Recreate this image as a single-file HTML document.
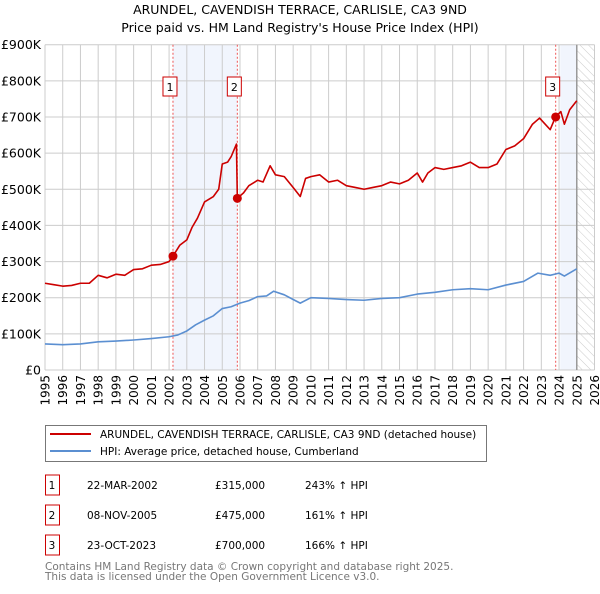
<!DOCTYPE html>
<html><head><meta charset="utf-8"><style>
body{margin:0;background:#fff;font-family:"DejaVu Sans","Liberation Sans",sans-serif;}
svg text{font-family:"DejaVu Sans","Liberation Sans",sans-serif;}
</style></head><body>
<svg id="c" width="600" height="590" xmlns="http://www.w3.org/2000/svg">
<defs><pattern id="hatch" width="6" height="6" patternUnits="userSpaceOnUse" patternTransform="rotate(-45)"><line x1="0" y1="0" x2="0" y2="6" stroke="#ccc" stroke-width="1"/></pattern></defs>
<text x="300" y="14" text-anchor="middle" font-size="12.5">ARUNDEL, CAVENDISH TERRACE, CARLISLE, CA3 9ND</text>
<text x="300" y="32" text-anchor="middle" font-size="12.5">Price paid vs. HM Land Registry's House Price Index (HPI)</text>
<g id="plot"></g>
<g>
<rect x="45.5" y="425.5" width="441" height="36" fill="#fff" stroke="#777"/>
<line x1="50" y1="434" x2="91" y2="434" stroke="#cc0000" stroke-width="2"/>
<text x="100" y="438" font-size="10.5">ARUNDEL, CAVENDISH TERRACE, CARLISLE, CA3 9ND (detached house)</text>
<line x1="50" y1="451" x2="91" y2="451" stroke="#5b8fd1" stroke-width="2"/>
<text x="100" y="455" font-size="10.5">HPI: Average price, detached house, Cumberland</text>
</g>
<g id="table" font-size="10.5"></g>
<text x="45" y="570" font-size="10.5" fill="#777">Contains HM Land Registry data © Crown copyright and database right 2025.</text>
<text x="45" y="580" font-size="10.5" fill="#777">This data is licensed under the Open Government Licence v3.0.</text>
</svg>
<script>
const yTicks=[0,100,200,300,400,500,600,700,800,900];
const yTickLabels=["£0","£100K","£200K","£300K","£400K","£500K","£600K","£700K","£800K","£900K"];
const xYears=[1995,1996,1997,1998,1999,2000,2001,2002,2003,2004,2005,2006,2007,2008,2009,2010,2011,2012,2013,2014,2015,2016,2017,2018,2019,2020,2021,2022,2023,2024,2025,2026];
const redT=[1995,1995.5,1996,1996.5,1997,1997.5,1998,1998.5,1999,1999.5,2000,2000.5,2001,2001.5,2002,2002.22,2002.6,2003,2003.3,2003.6,2004,2004.5,2004.8,2005,2005.3,2005.5,2005.8,2005.85,2006.2,2006.5,2007,2007.3,2007.7,2008,2008.5,2009,2009.4,2009.7,2010,2010.5,2011,2011.5,2012,2012.5,2013,2013.5,2014,2014.5,2015,2015.5,2016,2016.3,2016.6,2017,2017.5,2018,2018.5,2019,2019.5,2020,2020.5,2021,2021.5,2022,2022.5,2022.9,2023.5,2023.8,2024.1,2024.3,2024.6,2025];
const redV=[240,236,232,234,240,240,262,255,265,262,278,280,290,292,300,315,345,360,395,420,465,480,500,570,575,590,625,475,490,510,525,520,565,540,535,505,480,530,535,540,520,525,510,505,500,505,510,520,515,525,545,520,545,560,555,560,565,575,560,560,570,610,620,640,680,697,665,700,715,680,720,745];
const blueT=[1995,1996,1997,1998,1999,2000,2001,2002,2002.5,2003,2003.5,2004,2004.5,2005,2005.5,2006,2006.5,2007,2007.5,2007.9,2008.5,2009,2009.4,2010,2011,2012,2013,2014,2015,2016,2017,2018,2019,2020,2021,2022,2022.8,2023.5,2024,2024.3,2025];
const blueV=[72,70,72,78,80,83,87,92,97,108,125,138,150,170,175,185,192,203,205,218,208,195,185,200,198,195,193,198,200,210,215,222,225,222,235,245,268,262,268,260,280];
const saleT=[2002.22,2005.85,2023.81];
const saleV=[315,475,700];
const saleLabels=["1","2","3"];
const saleDates=["22-MAR-2002","08-NOV-2005","23-OCT-2023"];
const salePrices=["£315,000","£475,000","£700,000"];
const saleHpi=["243% ↑ HPI","161% ↑ HPI","166% ↑ HPI"];

const L=45,R=594.5,T=44.7,B=370,NS="http://www.w3.org/2000/svg";
const X=t=>L+(t-1995)/(2026-1995)*(R-L);
const Y=v=>B-v/900*(B-T);
const g=document.getElementById('plot');
function mk(tag,a,p){const e=document.createElementNS(NS,tag);for(const k in a)e.setAttribute(k,a[k]);(p||g).appendChild(e);return e;}
let s=mk('rect',{x:X(saleT[0]),y:T,width:X(saleT[1])-X(saleT[0]),height:B-T,fill:'#eef3fc',opacity:0.8});


s=mk('rect',{x:X(2024.07),y:T,width:X(2025)-X(2024.07),height:B-T,fill:'#eef3fc',opacity:0.8});


s=mk('rect',{x:X(2025),y:T,width:R-X(2025),height:B-T,fill:'url(#hatch)'});


yTicks.forEach((v,i)=>{
 let l=mk('line',{x1:L,x2:R,y1:Y(v),y2:Y(v),stroke:'#ccc','stroke-width':1});
 
 
 let t=mk('text',{x:L-4,y:Y(v)+4.5,'text-anchor':'end','font-size':12.5});t.textContent=yTickLabels[i];
 
 
});
xYears.forEach(yr=>{
 let l=mk('line',{x1:X(yr),x2:X(yr),y1:T,y2:B,stroke:'#ccc','stroke-width':1});
 
 
 let t=mk('text',{x:0,y:0,'text-anchor':'end','font-size':12,transform:`translate(${X(yr)+4.5},${B+5}) rotate(-90)`});t.textContent=yr;
 
 
});
let ax=mk('line',{x1:X(2025),x2:X(2025),y1:T,y2:B,stroke:'#999','stroke-width':1.5});


saleT.forEach((t,i)=>{
 let l=mk('line',{x1:X(t),x2:X(t),y1:T,y2:B,stroke:'#e55','stroke-width':1,'stroke-dasharray':'2,2'});
 
 
 let bx=mk('rect',{x:X(t)-10,y:77,width:14,height:19,fill:'#fff',stroke:'#c00'});
 
 
 let tx=mk('text',{x:X(t)-3,y:91,'text-anchor':'middle','font-size':11});tx.textContent=saleLabels[i];
 
 
});
function line(ts,vs,c,n){let p=mk('polyline',{points:ts.map((t,i)=>X(t)+','+Y(vs[i])).join(' '),fill:'none',stroke:c,'stroke-width':1.6,'stroke-linejoin':'round'});
 
 }
line(blueT,blueV,'#5b8fd1','hpi-line');
line(redT,redV,'#cc0000','property-price-line');
saleT.forEach((t,i)=>{let c=mk('circle',{cx:X(t),cy:Y(saleV[i]),r:4.5,fill:'#cc0000'});
 
 });
const tb=document.getElementById('table');
saleLabels.forEach((lb,i)=>{
 const y=485+i*30;
 let r=mk('rect',{x:45.5,y:y-10,width:14,height:20,fill:'#fff',stroke:'#c00'},tb);
 
 
 const cols=[[52,lb,'middle'],[87,saleDates[i],'start'],[215,salePrices[i],'start'],[305,saleHpi[i],'start']];
 cols.forEach(([x,txt,a],j)=>{let t=mk('text',{x:x,y:y+4,'text-anchor':a},tb);t.textContent=txt;
  
  });
});
</script>
</body></html>
